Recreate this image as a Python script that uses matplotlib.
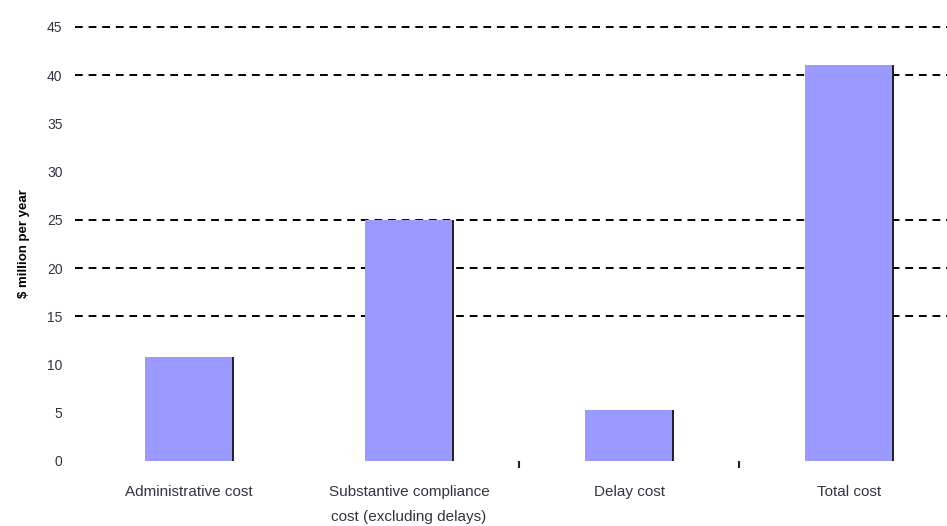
import numpy as np
import matplotlib.pyplot as plt

categories = ["Administrative cost", "Substantive compliance\ncost (excluding delays)",
              "Delay cost", "Total cost"]
values = [10.8, 25.0, 5.3, 41.1]
grid_levels = [15, 20, 25, 40, 45]
yticks = [0, 5, 10, 15, 20, 25, 30, 35, 40, 45]

plt.rcParams['font.family'] = ['Liberation Sans', 'DejaVu Sans']

fig = plt.figure(figsize=(9.47, 5.26), dpi=100)
ax = fig.add_axes([75/947, 1 - 461/526, (947-75)/947, (461-27)/526])

x = np.arange(len(categories))
ax.bar(x, values, width=0.4, color='#9999ff', edgecolor='none', zorder=2)
# thin dark shading on the right side of each bar
ax.bar(x + 0.2, values, width=0.012, color='#222233', zorder=3)

for g in grid_levels:
    ax.axhline(g, color='black', lw=1.4, ls=(0, (4, 3)), zorder=1, clip_on=False)

ax.set_xlim(-0.518, 3.445)
ax.set_ylim(0, 45)
ax.set_yticks(yticks)
ax.set_yticklabels([str(t) for t in yticks], fontsize=10, color='#333344')
ax.set_xticks(x)
ax.set_xticklabels(categories, fontsize=11, color='#333344', linespacing=2.0)
ax.tick_params(axis='y', which='major', length=0, pad=9)
ax.tick_params(axis='x', which='major', length=0, pad=17)
ax.set_xticks([1.5, 2.5], minor=True)
ax.tick_params(axis='x', which='minor', length=5, width=1.5, color='#222222', direction='out')
for s in ax.spines.values():
    s.set_visible(False)

ax.set_ylabel("$ million per year", fontsize=9.5, fontweight='bold', labelpad=12)

fig.savefig("out.png", dpi=100)
